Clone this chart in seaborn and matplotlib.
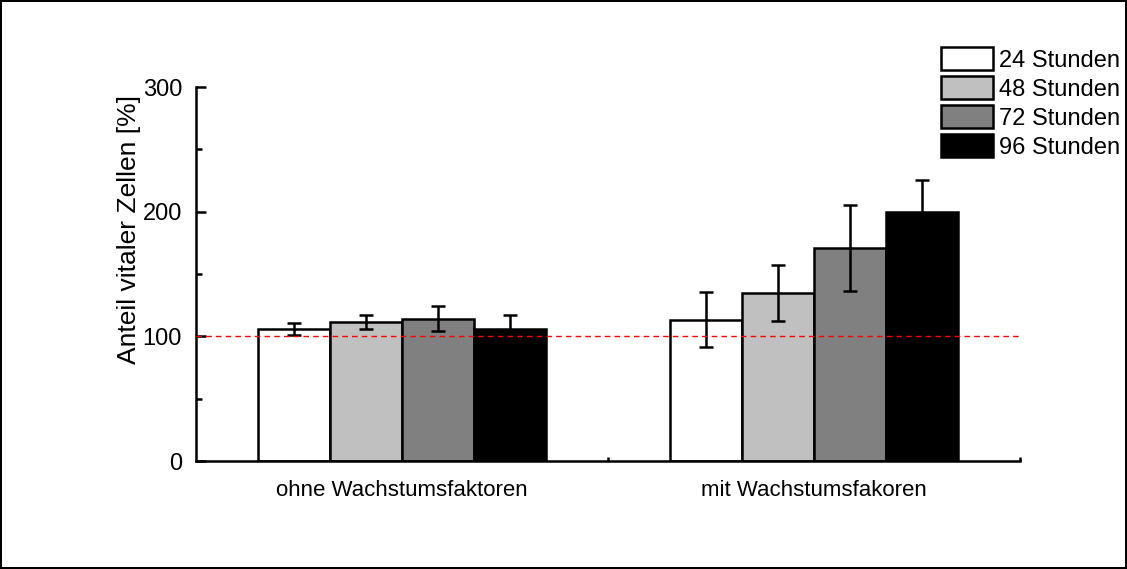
import numpy as np
import matplotlib
matplotlib.use("Agg")
import matplotlib.pyplot as plt
from matplotlib.ticker import MultipleLocator, FixedLocator
import pandas as pd
import seaborn as sns

# Werte
gruppen = ["ohne Wachstumsfaktoren", "mit Wachstumsfakoren"]
zeiten = ["24 Stunden", "48 Stunden", "72 Stunden", "96 Stunden"]
mittel_ohne = [106, 111.5, 114, 106]
mittel_mit = [113.5, 135, 171, 200]
sd_ohne = [5, 6, 10, 11]
sd_mit = [22, 22.5, 34.5, 25]
farben = ["#ffffff", "#c0c0c0", "#808080", "#000000"]

rows = []
for g, mw, sd in [(gruppen[0], mittel_ohne, sd_ohne), (gruppen[1], mittel_mit, sd_mit)]:
    for z, m, s in zip(zeiten, mw, sd):
        rows.append({"Gruppe": g, "Zeit": z, "Wert": m, "SD": s})
df = pd.DataFrame(rows)

sns.set_style("ticks")
plt.rcParams["font.family"] = ["Liberation Sans", "DejaVu Sans"]
plt.rcParams.update({"text.color": "black", "axes.labelcolor": "black",
                     "xtick.color": "black", "ytick.color": "black",
                     "axes.edgecolor": "black"})

fig = plt.figure(figsize=(11.27, 5.69), dpi=100)
fig.patch.set_edgecolor("black")
fig.patch.set_linewidth(1.5)
ax = fig.add_axes([196 / 1127, 1 - 461 / 569, 824 / 1127, 374 / 569])

sns.barplot(data=df, x="Gruppe", y="Wert", hue="Zeit", hue_order=zeiten,
            palette=farben, errorbar=None, width=0.7, gap=0,
            edgecolor="black", linewidth=1.8, saturation=1, ax=ax)

# Fehlerbalken
for cont, zeit in zip(ax.containers, zeiten):
    sub = df[df["Zeit"] == zeit].set_index("Gruppe").loc[gruppen]
    xs = [p.get_x() + p.get_width() / 2 for p in cont.patches]
    ax.errorbar(xs, sub["Wert"].values, yerr=sub["SD"].values, fmt="none",
                ecolor="black", elinewidth=1.8, capsize=4.7, capthick=1.8, zorder=5)

ax.axhline(100, color="red", lw=1, ls=(0, (4, 3)), zorder=6)

ax.set_xlim(-0.5, 1.5)
ax.set_ylim(0, 300)
ax.set_xlabel("")
ax.set_ylabel("Anteil vitaler Zellen [%]", fontsize=19)
ax.yaxis.set_label_coords(-0.0668, 0.618)

sns.despine(ax=ax)
for s in ["left", "bottom"]:
    ax.spines[s].set_linewidth(1.8)

ax.yaxis.set_major_locator(MultipleLocator(100))
ax.yaxis.set_minor_locator(MultipleLocator(50))
ax.tick_params(axis="y", which="major", direction="in", length=7, width=1.8,
               labelsize=17, pad=10)
ax.tick_params(axis="y", which="minor", direction="in", length=4, width=1.8)
ax.xaxis.set_minor_locator(FixedLocator([0.5, 1.5]))
ax.tick_params(axis="x", which="major", length=0, labelsize=16, pad=14)
ax.tick_params(axis="x", which="minor", direction="in", length=3, width=1.8)

handles, labels = ax.get_legend_handles_labels()
ax.legend_.remove()
fig.legend(handles, labels, loc="upper right", bbox_to_anchor=(1120 / 1127, 1 - 47 / 569),
           frameon=False, fontsize=17, borderpad=0, borderaxespad=0,
           handlelength=2.2, handleheight=1.15, handletextpad=0.25, labelspacing=0.18)

fig.savefig("out.png", dpi=100, facecolor="white", edgecolor=fig.get_edgecolor())
